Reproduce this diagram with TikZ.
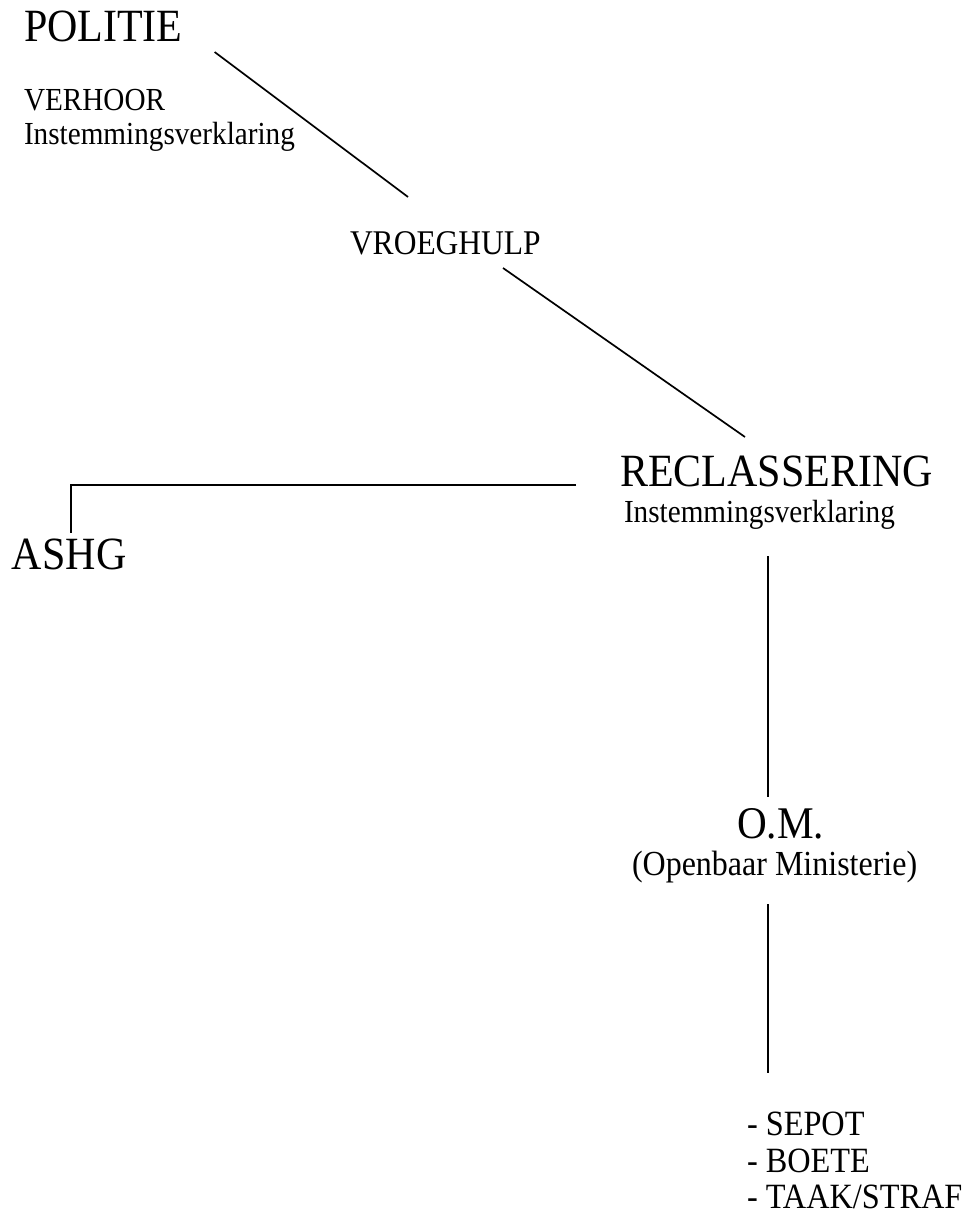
\documentclass[tikz,border=0pt]{standalone}
\usepackage{fontspec}
\setmainfont{Liberation Serif}
\newcommand\tallstr[1]{\scalebox{1}[1.1]{#1}}
\begin{document}
\begin{tikzpicture}[x=1pt,y=-1pt,
  lbl/.style={anchor=base west,inner sep=0pt,outer sep=0pt},
  big/.style={lbl,font=\fontsize{42}{48}\selectfont},
  mid/.style={lbl,font=\fontsize{31.5}{38}\selectfont},
  small/.style={lbl,font=\fontsize{29.2}{35}\selectfont},
  listitem/.style={lbl,font=\fontsize{32.3}{38}\selectfont},
  conn/.style={draw=black,line width=1.7pt}]
\fill[white] (0,0) rectangle (966,1214);
\useasboundingbox (0,0) rectangle (966,1214);
% nodes
\node[big]   (politie)  at (24,42)   {\tallstr{POLITIE}};
\node[small] (verhoor)  at (24,111)  {\tallstr{VERHOOR}};
\node[small] (instemA)  at (24,145)  {\tallstr{Instemmingsverklaring}};
\node[mid]   (vroeg)    at (350,255) {\tallstr{VROEGHULP}};
\node[big]   (recl)     at (620,486) {\tallstr{RECLASSERING}};
\node[small] (instemB)  at (624,522) {\tallstr{Instemmingsverklaring}};
\node[big]   (ashg)     at (12,569)  {\tallstr{ASHG}};
\node[big,font=\fontsize{41.2}{48}\selectfont] (om) at (737,838) {\tallstr{O.M.}};
\node[lbl,font=\fontsize{32}{38}\selectfont] (openbaar) at (632,875) {\tallstr{(Openbaar Ministerie)}};
\node[listitem] (sepot) at (747,1135) {\tallstr{- SEPOT}};
\node[listitem] (boete) at (747,1172) {\tallstr{- BOETE}};
\node[listitem] (taak)  at (747,1208) {\tallstr{- TAAK/STRAF}};
% connectors
\draw[conn] ([shift={(32,10)}]politie.base east) -- ([shift={(58,-58)}]vroeg.base west);
\draw[conn] ([shift={(153,13)}]vroeg.base west) -- ([shift={(125,-49)}]recl.base west);
\draw[conn] ([shift={(-44,-1)}]recl.base west) -| ([shift={(59,-36)}]ashg.base west);
\draw[conn] ([shift={(144,34)}]instemB.base west) -- ([shift={(31,-41)}]om.base west);
\draw[conn] ([shift={(136,29)}]openbaar.base west) -- ([shift={(21,-62)}]sepot.base west);
\end{tikzpicture}
\end{document}
